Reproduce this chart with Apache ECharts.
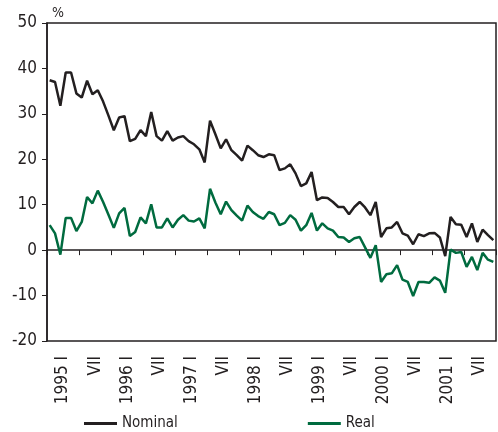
<!DOCTYPE html>
<html>
<head>
<meta charset="utf-8">
<script src="https://cdn.jsdelivr.net/npm/echarts@6/dist/echarts.min.js"></script>
<style>
  html, body { margin: 0; padding: 0; background: #fff; }
  #chart { width: 498px; height: 432px; }
</style>
</head>
<body>
<div id="chart"></div>
<script>
// half-year labels under the x axis
const tickLabels = ['1995 I', 'VII', '1996 I', 'VII', '1997 I', 'VII', '1998 I', 'VII',
  '1999 I', 'VII', '2000 I', 'VII', '2001 I', 'VII']
const years = [1995, 1996, 1997, 1998, 1999, 2000, 2001]

// monthly growth rates, %, Jan 1995 - Dec 2001
const nominal = [
  37.4, 37.0, 31.8, 39.1, 39.1, 34.5, 33.6, 37.3, 34.3, 35.2, 32.7, 29.6,
  26.4, 29.2, 29.5, 24.0, 24.5, 26.4, 25.1, 30.4, 25.1, 24.1, 26.2, 24.1,
  24.8, 25.1, 24.0, 23.3, 22.2, 19.3, 28.5, 25.5, 22.4, 24.4, 22.0, 20.9,
  19.7, 23.0, 22.0, 20.9, 20.5, 21.1, 20.9, 17.6, 18.0, 18.9, 16.9, 14.1,
  14.7, 17.2, 11.0, 11.6, 11.5, 10.6, 9.5, 9.5, 7.9, 9.5, 10.6, 9.4,
  7.7, 10.6, 2.9, 4.8, 5.0, 6.2, 3.7, 3.2, 1.3, 3.5, 3.1, 3.7,
  3.8, 2.8, -1.3, 7.3, 5.7, 5.6, 2.9, 5.9, 1.8, 4.5, 3.3, 2.2
]
const real = [
  5.5, 3.7, -1.0, 7.1, 7.1, 4.2, 6.2, 11.7, 10.3, 13.1, 10.6, 7.8,
  4.9, 8.1, 9.3, 3.1, 4.0, 7.2, 5.9, 10.1, 5.0, 5.0, 7.0, 5.0,
  6.7, 7.7, 6.5, 6.3, 7.0, 4.8, 13.5, 10.5, 7.9, 10.7, 8.8, 7.6,
  6.5, 9.8, 8.4, 7.5, 6.9, 8.4, 7.9, 5.5, 6.0, 7.7, 6.7, 4.3,
  5.5, 8.2, 4.3, 5.9, 4.8, 4.3, 2.9, 2.8, 1.8, 2.6, 2.9, 0.6,
  -1.7, 1.1, -7.0, -5.3, -5.1, -3.3, -6.5, -7.0, -10.1, -7.0, -7.0, -7.2,
  -6.0, -6.7, -9.4, 0.1, -0.6, -0.4, -3.7, -1.5, -4.4, -0.6, -2.1, -2.6
]

const months = []
years.forEach(y => {
  for (let m = 1; m <= 12; m++) months.push(y + '-' + m)
})

const font = "'Liberation Sans Narrow', 'DejaVu Sans Condensed', Arial, sans-serif"
const ink = '#231f20'
const green = '#006b3f'

const myChart = echarts.init(document.getElementById('chart'))

myChart.setOption({
  animation: false,
  grid: {
    left: 47, right: 2, top: 23, bottom: 91,
    show: true, borderColor: ink, borderWidth: 1.5
  },
  legend: {
    left: 79, top: 411,
    itemGap: 130, itemWidth: 33, itemHeight: 3,
    icon: 'rect',
    textStyle: { fontFamily: font, fontSize: 15, color: ink },
    data: ['Nominal', 'Real']
  },
  xAxis: [
    {
      type: 'category',
      data: tickLabels,
      boundaryGap: true,
      axisLine: { lineStyle: { color: ink, width: 1.5 } },
      axisTick: { show: true, length: 5, lineStyle: { color: ink, width: 1 } },
      axisLabel: {
        interval: 0, rotate: 90, margin: 15,
        fontFamily: font, fontSize: 17, color: ink
      },
      splitLine: { show: false }
    },
    {
      type: 'category',
      data: months,
      boundaryGap: true,
      show: false
    }
  ],
  yAxis: {
    type: 'value',
    min: -20, max: 50, interval: 10,
    name: '%',
    nameLocation: 'end',
    nameGap: 3,
    nameTextStyle: { fontFamily: font, fontSize: 14, color: ink, align: 'left', padding: [0, 0, 0, 5] },
    axisLine: { show: true, lineStyle: { color: ink, width: 1.5 } },
    axisTick: { show: true, length: 5, lineStyle: { color: ink, width: 1 } },
    axisLabel: { margin: 10, fontFamily: font, fontSize: 17, color: ink },
    splitLine: { show: false }
  },
  series: [
    {
      name: 'Nominal',
      type: 'line',
      xAxisIndex: 1,
      data: nominal,
      showSymbol: false,
      lineStyle: { color: ink, width: 2.5 },
      itemStyle: { color: ink }
    },
    {
      name: 'Real',
      type: 'line',
      xAxisIndex: 1,
      data: real,
      showSymbol: false,
      lineStyle: { color: green, width: 2.5 },
      itemStyle: { color: green }
    }
  ]
})
</script>
</body>
</html>
